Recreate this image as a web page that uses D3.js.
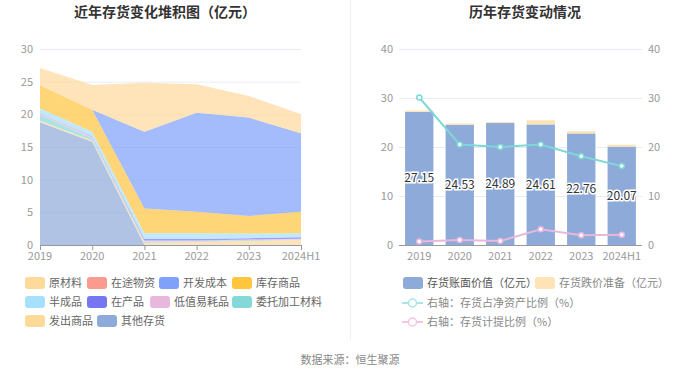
<!DOCTYPE html>
<html lang="zh">
<head>
<meta charset="UTF-8">
<title>存货</title>
<script src="https://d3js.org/d3.v7.min.js"></script>
<style>
  body { margin: 0; background: #fff; }
  svg { font-family: "Noto Sans CJK SC", "Noto Sans", sans-serif; }
</style>
</head>
<body>
<svg id="chart" width="700" height="378"></svg>
<script>
// ---- data ----
var years = ["2019", "2020", "2021", "2022", "2023", "2024H1"];

// left: stacked inventory breakdown (亿元), legend order
var seriesNames = ["原材料", "在途物资", "开发成本", "库存商品", "半成品", "在产品", "低值易耗品", "委托加工材料", "发出商品", "其他存货"];
var seriesColors = ["#fdd99a", "#fb9a8f", "#7fa0fb", "#ffc53d", "#a6e0fc", "#7576f0", "#e8b8dc", "#84d8d8", "#fdd99a", "#8eaad8"];
var rawMaterial   = [2.66, 3.8, 7.5, 4.35, 3.3, 2.9];
var inTransit     = [0, 0, 0, 0, 0, 0];
var devCost       = [0, 0, 11.75, 15.15, 15.06, 12.0];
var goodsInStock  = [3.56, 3.35, 3.8, 3.3, 2.69, 3.3];
var semiFinished  = [0.75, 0.7, 0.9, 0.9, 0.7, 0.6];
var wip           = [0.05, 0.1, 0.2, 0.2, 0.2, 0.25];
var lowValue      = [0.2, 0.25, 0.2, 0.15, 0.1, 0.1];
var consigned     = [0.85, 0.3, 0.15, 0.1, 0.1, 0.05];
var goodsShipped  = [0.25, 0.2, 0.3, 0.4, 0.6, 0.75];
var otherStock    = [18.78, 15.8, 0.05, 0.05, 0.05, 0.05];
var seriesValues = [rawMaterial, inTransit, devCost, goodsInStock, semiFinished, wip, lowValue, consigned, goodsShipped, otherStock];
var leftTicks = [0, 5, 10, 15, 20, 25, 30];

// right: book value + provision (亿元), ratios (%)
var bookValue  = [27.15, 24.53, 24.89, 24.61, 22.76, 20.07];
var provision  = [0.3, 0.3, 0.2, 0.85, 0.45, 0.4];
var ratioNet   = [30.1, 20.5, 20.0, 20.5, 18.1, 16.1];
var ratioProv  = [0.7, 1.0, 0.8, 3.2, 2.0, 2.1];
var rightTicks = [0, 10, 20, 30, 40];

var svg = d3.select("#chart");
var axisColor = "#999", labelColor = "#999", gridColor = "#e8edf5";

// titles
svg.append("text").attr("x", 165).attr("y", 17).attr("text-anchor", "middle")
    .style("font-size", "14px").style("font-weight", "bold").style("fill", "#333")
    .text("近年存货变化堆积图（亿元）");
svg.append("text").attr("x", 525).attr("y", 17).attr("text-anchor", "middle")
    .style("font-size", "14px").style("font-weight", "bold").style("fill", "#333")
    .text("历年存货变动情况");
svg.append("line").attr("x1", 350.5).attr("x2", 350.5).attr("y1", 0).attr("y2", 340)
    .style("stroke", "#f0f0f0");
svg.append("text").attr("x", 350).attr("y", 364).attr("text-anchor", "middle")
    .style("font-size", "11px").style("fill", "#888").text("数据来源：恒生聚源");

// ---- left chart ----
var xL = d3.scalePoint().domain(years).range([40, 301]);
var yL = d3.scaleLinear().domain([0, 30]).range([245, 49]);

var gL = svg.append("g");
leftTicks.forEach(function (t) {
    if (t > 0) {
        gL.append("line").attr("x1", 40).attr("x2", 301).attr("y1", yL(t) + 0.5).attr("y2", yL(t) + 0.5)
            .style("stroke", gridColor);
    }
    gL.append("text").attr("x", 33).attr("y", yL(t) + 4).attr("text-anchor", "end")
        .style("font-size", "11px").style("fill", labelColor).text(t);
});

var rows = years.map(function (y, i) {
    var r = { year: y };
    seriesNames.forEach(function (n, k) { r[n] = seriesValues[k][i]; });
    return r;
});
// bottom of the stack is the last legend entry
var stack = d3.stack().keys(seriesNames.slice().reverse());
var layers = stack(rows);
var area = d3.area()
    .x(function (d) { return xL(d.data.year); })
    .y0(function (d) { return yL(d[0]); })
    .y1(function (d) { return yL(d[1]); });
layers.forEach(function (layer) {
    var idx = seriesNames.indexOf(layer.key);
    gL.append("path").attr("d", area(layer))
        .style("fill", seriesColors[idx]).style("fill-opacity", 0.7);
});

gL.append("line").attr("x1", 40).attr("x2", 301).attr("y1", 245.5).attr("y2", 245.5).style("stroke", axisColor);
years.forEach(function (y) {
    gL.append("line").attr("x1", xL(y) + 0.5).attr("x2", xL(y) + 0.5).attr("y1", 245).attr("y2", 250).style("stroke", axisColor);
    gL.append("text").attr("x", xL(y)).attr("y", 260).attr("text-anchor", "middle")
        .style("font-size", "11px").style("fill", labelColor).text(y);
});

// left legend
var legL = [[25, 283], [87, 283], [159, 283], [232, 283],
            [25, 302], [87, 302], [150, 302], [232, 302],
            [25, 321], [97, 321]];
seriesNames.forEach(function (n, i) {
    var p = legL[i];
    svg.append("rect").attr("x", p[0]).attr("y", p[1] - 6).attr("width", 20).attr("height", 12).attr("rx", 3)
        .style("fill", seriesColors[i]);
    svg.append("text").attr("x", p[0] + 24).attr("y", p[1] + 4)
        .style("font-size", "11px").style("fill", "#666").text(n);
});

// ---- right chart ----
var xR = d3.scaleBand().domain(years).range([399, 642]).paddingInner(0.3).paddingOuter(0.15);
var yR = d3.scaleLinear().domain([0, 40]).range([245, 49]);
var yR2 = d3.scaleLinear().domain([0, 40]).range([245, 49]);

var gR = svg.append("g");
rightTicks.forEach(function (t) {
    if (t > 0) {
        gR.append("line").attr("x1", 399).attr("x2", 642).attr("y1", yR(t) + 0.5).attr("y2", yR(t) + 0.5)
            .style("stroke", gridColor);
    }
    gR.append("text").attr("x", 393).attr("y", yR(t) + 4).attr("text-anchor", "end")
        .style("font-size", "11px").style("fill", labelColor).text(t);
    gR.append("text").attr("x", 648).attr("y", yR2(t) + 4).attr("text-anchor", "start")
        .style("font-size", "11px").style("fill", labelColor).text(t);
});

years.forEach(function (y, i) {
    gR.append("rect").attr("x", xR(y)).attr("width", xR.bandwidth())
        .attr("y", yR(bookValue[i])).attr("height", yR(0) - yR(bookValue[i]))
        .style("fill", "#8eaad8");
    gR.append("rect").attr("x", xR(y)).attr("width", xR.bandwidth())
        .attr("y", yR(bookValue[i] + provision[i])).attr("height", yR(bookValue[i]) - yR(bookValue[i] + provision[i]))
        .style("fill", "#fde3b5");
});

gR.append("line").attr("x1", 399).attr("x2", 642).attr("y1", 245.5).attr("y2", 245.5).style("stroke", axisColor);
years.forEach(function (y) {
    gR.append("text").attr("x", xR(y) + xR.bandwidth() / 2).attr("y", 260).attr("text-anchor", "middle")
        .style("font-size", "11px").style("fill", labelColor).text(y);
});

function drawLine(vals, color) {
    var line = d3.line()
        .x(function (d, i) { return xR(years[i]) + xR.bandwidth() / 2; })
        .y(function (d) { return yR2(d); });
    gR.append("path").attr("d", line(vals)).style("fill", "none").style("stroke", color).style("stroke-width", 2);
    vals.forEach(function (v, i) {
        gR.append("circle").attr("cx", xR(years[i]) + xR.bandwidth() / 2).attr("cy", yR2(v)).attr("r", 2.5)
            .style("fill", "#fff").style("stroke", color).style("stroke-width", 1.5);
    });
}
drawLine(ratioNet, "#7dd8d8");
drawLine(ratioProv, "#e8b8dc");

// bar labels
years.forEach(function (y, i) {
    gR.append("text").attr("x", xR(y) + xR.bandwidth() / 2).attr("y", (yR(bookValue[i]) + yR(0)) / 2 + 4)
        .attr("text-anchor", "middle")
        .style("font-size", "12px").style("fill", "#333")
        .style("stroke", "#fff").style("stroke-width", 3).style("paint-order", "stroke")
        .text(bookValue[i].toFixed(2));
});

// right legend
function legendRect(x, y, color, label, textColor) {
    svg.append("rect").attr("x", x).attr("y", y - 6).attr("width", 20).attr("height", 12).attr("rx", 3).style("fill", color);
    svg.append("text").attr("x", x + 24).attr("y", y + 4).style("font-size", "11px").style("fill", textColor).text(label);
}
function legendLine(x, y, color, label) {
    svg.append("line").attr("x1", x).attr("x2", x + 21).attr("y1", y).attr("y2", y).style("stroke", color).style("stroke-width", 2);
    svg.append("circle").attr("cx", x + 10.5).attr("cy", y).attr("r", 4).style("fill", "#fff").style("stroke", color).style("stroke-width", 1.5);
    svg.append("text").attr("x", x + 25).attr("y", y + 4).style("font-size", "11px").style("fill", "#888").text(label);
}
legendRect(403, 283, "#8eaad8", "存货账面价值（亿元）", "#555");
legendRect(535, 283, "#fde3b5", "存货跌价准备（亿元）", "#888");
legendLine(402, 303, "#a6e6e6", "右轴：存货占净资产比例（%）");
legendLine(402, 322, "#f3c6e4", "右轴：存货计提比例（%）");
</script>
</body>
</html>
